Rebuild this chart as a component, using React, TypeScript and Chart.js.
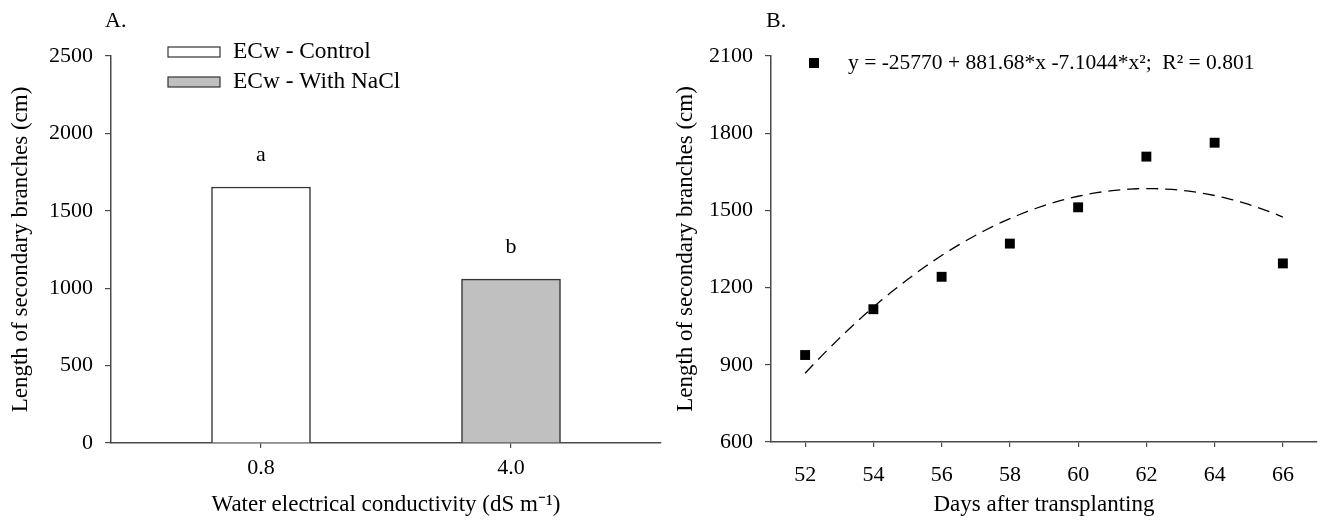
import React, { useEffect, useRef } from "react";
import { Chart, registerables } from "chart.js";

Chart.register(...registerables);

// ---------- Panel A data ----------
const conductivityLabels = ["0.8", "4.0"];
const seriesNames = ["ECw - Control", "ECw - With NaCl"];
const barValues = [1654, 1059];
const sigLetters = ["a", "b"];
const barYTicks = [0, 500, 1000, 1500, 2000, 2500];

// ---------- Panel B data ----------
const days = [52, 54, 56, 58, 60, 62, 64, 66];
const branchLength = [938, 1116, 1242, 1371, 1512, 1709, 1763, 1294];
const fitCoefficients = [-25770, 881.68, -7.1044];
const fitLabel = "y = -25770 + 881.68*x -7.1044*x\u00b2;  R\u00b2 = 0.801";
const dayTicks = [52, 54, 56, 58, 60, 62, 64, 66];
const lengthTicks = [600, 900, 1200, 1500, 1800, 2100];

// ---------- styles ----------
const FAMILY = "'Liberation Serif', 'Times New Roman', serif";
const FS = 22;
const TITLE_FS = 23;
const AXIS = "#4a4a4a";
const barFills = ["#ffffff", "#c0c0c0"];
const barBorder = "#333333";
const font = { family: FAMILY, size: FS };
const titleFont = { family: FAMILY, size: TITLE_FS };

function fitValue(x: number) {
  return fitCoefficients[0] + fitCoefficients[1] * x + fitCoefficients[2] * x * x;
}

const fitSamples: { x: number; y: number }[] = [];
for (let x = days[0]; x <= days[days.length - 1] + 1e-9; x += 0.25) {
  fitSamples.push({ x, y: fitValue(x) });
}

const panelAPlugin = {
  id: "panelA",
  afterDraw(chart: any) {
    const ctx = chart.ctx;
    ctx.save();
    ctx.fillStyle = "#000";
    ctx.textBaseline = "middle";
    ctx.textAlign = "left";
    ctx.font = `${FS}px ${FAMILY}`;
    ctx.fillText("A.", 105, 21);
    // legend
    ctx.font = `23.4px ${FAMILY}`;
    const rows = [52, 82];
    seriesNames.forEach((name, i) => {
      ctx.fillStyle = barFills[i];
      ctx.strokeStyle = barBorder;
      ctx.lineWidth = 1.2;
      ctx.fillRect(168, rows[i] - 5, 52, 10);
      ctx.strokeRect(168, rows[i] - 5, 52, 10);
      ctx.fillStyle = "#000";
      ctx.fillText(name, 233, rows[i]);
    });
    // significance letters
    ctx.font = `${FS}px ${FAMILY}`;
    const xs = chart.scales.x;
    const ys = chart.scales.y;
    ctx.textAlign = "center";
    barValues.forEach((v, i) => {
      ctx.fillText(sigLetters[i], xs.getPixelForValue(i), ys.getPixelForValue(v) - 32);
    });
    ctx.restore();
  },
};

const panelBPlugin = {
  id: "panelB",
  afterDraw(chart: any) {
    const ctx = chart.ctx;
    ctx.save();
    ctx.fillStyle = "#000";
    ctx.textBaseline = "middle";
    ctx.textAlign = "left";
    ctx.font = `${FS}px ${FAMILY}`;
    ctx.fillText("B.", 104, 21);
    ctx.fillRect(147, 58, 10, 10);
    ctx.font = `21.5px ${FAMILY}`;
    ctx.fillText(fitLabel, 186, 63);
    ctx.restore();
  },
};

const plainNumber = (v: any) => String(v);

function PanelA() {
  const ref = useRef<HTMLCanvasElement>(null);
  useEffect(() => {
    if (!ref.current) return;
    const chart = new Chart(ref.current, {
      type: "bar",
      data: {
        datasets: barValues.map((v, i) => ({
          label: seriesNames[i],
          data: [{ x: i, y: v }],
          backgroundColor: barFills[i],
          borderColor: barBorder,
          borderWidth: 1.5,
          barThickness: 99,
          grouped: false,
        })),
      } as any,
      options: {
        animation: false,
        responsive: false,
        layout: { padding: { top: 56, right: 1, bottom: 0, left: 0 } },
        plugins: { legend: { display: false }, tooltip: { enabled: false } },
        scales: {
          x: {
            type: "linear",
            offset: false,
            min: -0.6,
            max: 1.6,
            afterBuildTicks: (s: any) => {
              s.ticks = conductivityLabels.map((_, i) => ({ value: i }));
            },
            ticks: {
              callback: (v: any) => conductivityLabels[v],
              font,
              color: "#000",
              padding: 7,
              autoSkip: false,
              maxRotation: 0,
            },
            grid: { offset: false, drawOnChartArea: false, drawTicks: true, tickLength: 5, color: AXIS, lineWidth: 1.2 },
            border: { color: AXIS, width: 1.5 },
            title: {
              display: true,
              text: "Water electrical conductivity (dS m\u207b\u00b9)",
              font: titleFont,
              color: "#000",
              padding: { top: 0, bottom: 3.2 },
            },
            afterFit: (s: any) => {
              s.height = 79;
            },
          },
          y: {
            min: 0,
            max: 2500,
            afterBuildTicks: (s: any) => {
              s.ticks = barYTicks.map((v) => ({ value: v }));
            },
            ticks: { font, color: "#000", padding: 12, callback: plainNumber },
            grid: { drawOnChartArea: false, drawTicks: true, tickLength: 6, color: AXIS, lineWidth: 1.2 },
            border: { color: AXIS, width: 1.5 },
            title: {
              display: true,
              text: "Length of secondary branches (cm)",
              font: titleFont,
              color: "#000",
              padding: { top: 7.2, bottom: 0 },
            },
            afterFit: (s: any) => {
              s.width = 111;
            },
          },
        },
      } as any,
      plugins: [panelAPlugin],
    });
    return () => chart.destroy();
  }, []);
  return <canvas ref={ref} width={662} height={522} style={{ display: "block" }} />;
}

function PanelB() {
  const ref = useRef<HTMLCanvasElement>(null);
  useEffect(() => {
    if (!ref.current) return;
    const chart = new Chart(ref.current, {
      type: "scatter",
      data: {
        datasets: [
          {
            label: fitLabel,
            data: days.map((d, i) => ({ x: d, y: branchLength[i] })),
            pointStyle: "rect",
            pointRadius: 7,
            backgroundColor: "#000",
            borderColor: "#000",
            borderWidth: 0,
            showLine: false,
          },
          {
            label: "fit",
            data: fitSamples,
            showLine: true,
            pointRadius: 0,
            borderColor: "#000",
            borderWidth: 1.3,
            borderDash: [12, 7],
            fill: false,
            tension: 0,
          },
        ],
      } as any,
      options: {
        animation: false,
        responsive: false,
        layout: { padding: { top: 56, right: 2, bottom: 0, left: 0 } },
        plugins: { legend: { display: false }, tooltip: { enabled: false } },
        scales: {
          x: {
            type: "linear",
            min: 51,
            max: 67,
            afterBuildTicks: (s: any) => {
              s.ticks = dayTicks.map((v) => ({ value: v }));
            },
            ticks: { font, color: "#000", padding: 15, autoSkip: false, maxRotation: 0, callback: plainNumber },
            grid: { drawOnChartArea: false, drawTicks: true, tickLength: 5, color: AXIS, lineWidth: 1.2 },
            border: { color: AXIS, width: 1.5 },
            title: {
              display: true,
              text: "Days after transplanting",
              font: titleFont,
              color: "#000",
              padding: { top: 0, bottom: 3.2 },
            },
            afterFit: (s: any) => {
              s.height = 80;
            },
          },
          y: {
            min: 600,
            max: 2100,
            afterBuildTicks: (s: any) => {
              s.ticks = lengthTicks.map((v) => ({ value: v }));
            },
            ticks: { font, color: "#000", padding: 12, callback: plainNumber },
            grid: { drawOnChartArea: false, drawTicks: true, tickLength: 6, color: AXIS, lineWidth: 1.2 },
            border: { color: AXIS, width: 1.5 },
            title: {
              display: true,
              text: "Length of secondary branches (cm)",
              font: titleFont,
              color: "#000",
              padding: { top: 9.7, bottom: 0 },
            },
            afterFit: (s: any) => {
              s.width = 109;
            },
          },
        },
      } as any,
      plugins: [panelBPlugin],
    });
    return () => chart.destroy();
  }, []);
  return <canvas ref={ref} width={662} height={522} style={{ display: "block" }} />;
}

export default function App() {
  return (
    <div
      style={{
        position: "fixed",
        left: 0,
        top: 0,
        width: 1324,
        height: 522,
        background: "#fff",
        display: "flex",
      }}
    >
      <PanelA />
      <PanelB />
    </div>
  );
}
